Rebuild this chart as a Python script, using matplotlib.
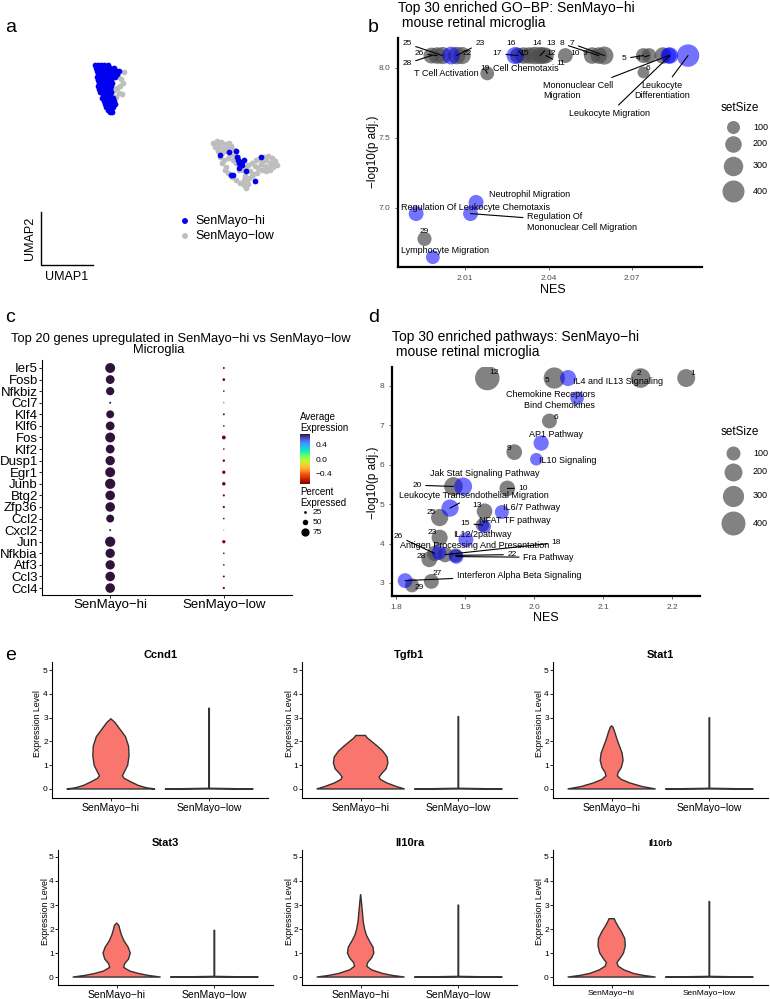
import numpy as np
import matplotlib
matplotlib.use('Agg')
import matplotlib.pyplot as plt
from matplotlib.colors import Normalize
from matplotlib.cm import ScalarMappable

plt.rcParams['font.family'] = ['Liberation Sans', 'DejaVu Sans']
M = '\u2212'

# ---------------- panel a : UMAP ----------------
hi_umap1 = [9.5, 9.8, 10.1, 10.4, 10.8,
            9.6, 9.9, 10.3, 10.7, 11.0, 11.4,
            9.7, 10.0, 10.4, 10.8, 11.2, 11.6, 11.9,
            9.8, 10.2, 10.5, 10.9, 11.3, 11.7,
            9.7, 10.1, 10.5, 10.8, 11.2, 11.5,
            9.8, 10.1, 10.4, 10.8, 11.1,
            9.9, 10.2, 10.6, 10.9, 11.2,
            9.8, 10.1, 10.4, 10.7, 11.1,
            9.9, 10.3, 10.6, 11.0,
            10.0, 10.4, 10.8, 11.1,
            10.3, 10.7, 11.0,
            10.2, 10.6, 10.9, 11.3,
            10.4, 10.7, 11.0, 11.4,
            10.5, 10.8, 11.2, 11.5,
            10.6, 10.9, 11.3,
            10.8, 11.1,
            11.0, 11.2,
            22.0, 22.9, 23.6, 23.7, 23.8, 23.9, 24.2, 24.2, 23.9, 23.1, 23.3, 25.5, 26.1, 24.6, 24.4]
hi_umap2 = [23.5, 23.5, 23.5, 23.5, 23.5,
            23.2, 23.2, 23.2, 23.2, 23.2, 23.2,
            22.9, 22.9, 22.9, 22.9, 22.9, 22.9, 22.9,
            22.6, 22.6, 22.6, 22.6, 22.6, 22.6,
            22.3, 22.3, 22.3, 22.3, 22.3, 22.3,
            22.0, 22.0, 22.0, 22.0, 22.0,
            21.7, 21.7, 21.7, 21.7, 21.7,
            21.4, 21.4, 21.4, 21.4, 21.4,
            21.1, 21.1, 21.1, 21.1,
            20.8, 20.8, 20.8, 20.8,
            20.5, 20.5, 20.5,
            20.2, 20.2, 20.2, 20.2,
            19.9, 19.9, 19.9, 19.9,
            19.6, 19.6, 19.6, 19.6,
            19.3, 19.3, 19.3,
            19.0, 19.0,
            18.8, 18.8,
            14.5, 14.8, 14.9, 14.3, 14.0, 13.7, 13.8, 13.5, 13.2, 12.5, 12.5, 11.9, 14.3, 12.9, 14.0]
low_umap1 = [11.8, 12.1, 12.3, 11.7, 11.9, 11.4, 11.6, 12.2, 11.2, 12.0, 12.4, 11.5,
             21.3, 21.7, 22.1, 22.5, 22.9, 21.5, 21.9, 22.3, 22.7, 23.1, 21.8, 22.2, 22.6, 23.0, 23.4,
             22.0, 22.4, 23.0, 23.5, 23.8, 22.2, 22.6, 23.3, 23.6, 24.1, 22.5, 22.8, 23.2, 23.6, 24.0,
             24.4, 24.6, 24.7, 24.5, 24.9, 25.2, 25.0, 24.6, 24.8, 25.2, 25.6, 26.0, 26.4, 26.8, 27.2,
             27.5, 27.7, 27.3, 26.9, 26.5, 26.1, 25.8, 26.2, 26.6, 27.0, 25.5, 25.7, 25.3, 24.3, 23.9,
             27.0, 27.4, 26.6, 26.2, 21.8, 22.8, 24.8, 24.4]
low_umap2 = [22.4, 22.1, 21.7, 21.2, 20.7, 21.0, 20.3, 20.6, 20.5, 21.4, 22.8, 23.0,
             15.7, 15.9, 15.8, 15.6, 15.7, 15.3, 15.4, 15.2, 15.3, 15.4, 14.9, 14.7, 14.9, 15.0, 15.0,
             14.3, 14.0, 14.5, 14.5, 14.3, 13.7, 13.3, 14.0, 13.7, 13.8, 13.0, 12.7, 12.3, 12.0, 11.7,
             11.5, 11.2, 12.0, 12.4, 12.2, 12.4, 12.9, 13.2, 13.5, 13.7, 14.0, 14.2, 14.3, 14.4, 14.2,
             13.9, 13.5, 13.3, 13.2, 13.4, 13.6, 13.2, 13.0, 12.9, 13.0, 13.4, 12.7, 12.6, 13.0, 13.0,
             13.7, 13.6, 14.0, 13.9, 15.6, 14.2, 11.6, 12.0]

# ---------------- panel b : GO-BP ----------------
b_term = ['28', '26', '25', 'T Cell Activation', '23', '22', '19',
          'Cell Chemotaxis', '17', '16', '15', '14', '13', '12', '11', '10', '9', '8', '7',
          '5', '4', '6', '3', 'Mononuclear Cell\nMigration', 'Leukocyte Migration',
          'Leukocyte\nDifferentiation', 'Neutrophil Migration',
          'Regulation Of Leukocyte Chemotaxis', 'Regulation Of\nMononuclear Cell Migration',
          '29', 'Lymphocyte Migration']
b_nes = [1.998, 2.000, 2.002, 2.005, 2.007, 2.009, 2.018,
         2.028, 2.029, 2.031, 2.033, 2.035, 2.037, 2.038, 2.039, 2.046, 2.0556, 2.058, 2.060,
         2.074, 2.076, 2.074, 2.081, 2.083, 2.0835,
         2.090, 2.014, 1.9925, 2.012, 1.9955, 1.9985]
b_logp = [8.085, 8.085, 8.085, 8.085, 8.085, 8.085, 7.958,
          8.085, 8.085, 8.085, 8.085, 8.085, 8.085, 8.085, 8.085, 8.085, 8.085, 8.085, 8.085,
          8.085, 8.085, 7.965, 8.085, 8.085, 8.085,
          8.085, 7.04, 6.96, 6.96, 6.78, 6.65]
b_setsize = [180, 200, 220, 240, 230, 220, 120,
             220, 180, 200, 200, 230, 220, 200, 180, 150, 200, 200, 250,
             150, 150, 70, 200, 180, 200,
             420, 150, 150, 150, 130, 120]
b_selected = [0, 0, 0, 1, 0, 0, 0,
              1, 0, 0, 0, 0, 0, 0, 0, 0, 0, 0, 0,
              0, 0, 0, 0, 1, 1,
              1, 1, 1, 1, 0, 1]

# ---------------- panel c : dot plot ----------------
genes = ['Ier5', 'Fosb', 'Nfkbiz', 'Ccl7', 'Klf4', 'Klf6', 'Fos', 'Klf2', 'Dusp1', 'Egr1',
         'Junb', 'Btg2', 'Zfp36', 'Ccl2', 'Cxcl2', 'Jun', 'Nfkbia', 'Atf3', 'Ccl3', 'Ccl4']
groups = ['SenMayo' + M + 'hi', 'SenMayo' + M + 'low']
pct_hi = [90, 80, 75, 18, 72, 80, 90, 80, 85, 90, 93, 87, 87, 72, 18, 93, 85, 85, 87, 87]
pct_low = [18, 25, 15, 10, 18, 15, 35, 15, 22, 30, 32, 20, 20, 15, 8, 30, 15, 15, 18, 20]
avg_hi = [0.707] * 20
avg_low = [-0.707] * 20

# ---------------- panel d : pathways ----------------
d_term = ['12', '5', 'IL4 and IL13 Signaling', '2', '1', 'Chemokine Receptors\nBind Chemokines',
          '6', 'AP1 Pathway', '9', 'IL10 Signaling', '20', 'Jak Stat Signaling Pathway', '10',
          'Leukocyte Transendothelial Migration', '13', 'IL6/7 Pathway', '25', '15',
          'NFAT TF pathway', '23', 'IL12/2pathway', '26', 'Antigen Processing And Presentation',
          '18', '28', '22', 'Fra Pathway', 'Interferon Alpha Beta Signaling', '27', '29']
d_nes = [1.932, 2.029, 2.049, 2.154, 2.220, 2.062,
         2.022, 2.010, 1.971, 2.003, 1.883, 1.897, 1.961,
         1.878, 1.928, 1.953, 1.863, 1.925,
         1.928, 1.863, 1.901, 1.856, 1.862,
         1.871, 1.848, 1.886, 1.887, 1.813, 1.851, 1.823]
d_logp = [8.2, 8.2, 8.2, 8.2, 8.2, 7.69,
          7.11, 6.55, 6.32, 6.14, 5.45, 5.45, 5.40,
          4.90, 4.82, 4.80, 4.66, 4.47,
          4.43, 4.15, 4.10, 3.75, 3.77,
          3.72, 3.60, 3.70, 3.67, 3.06, 3.04, 2.94]
d_setsize = [420, 300, 150, 250, 200, 90,
             120, 130, 140, 70, 220, 200, 140,
             180, 140, 100, 180, 90,
             80, 150, 120, 130, 110,
             130, 140, 100, 110, 120, 120, 100]
d_selected = [0, 0, 1, 0, 0, 1,
              0, 1, 0, 1, 0, 1, 0,
              1, 0, 1, 0, 0,
              1, 0, 1, 0, 1,
              0, 0, 0, 1, 1, 0, 0]

# ---------------- panel e : violins (level, relative half width) ----------------
vln_genes = ['Ccnd1', 'Tgfb1', 'Stat1', 'Stat3', 'Il10ra', 'Il10rb']
vln_levels = {
    'Ccnd1': [0, 0.05, 0.15, 0.3, 0.45, 0.55, 0.7, 1.0, 1.4, 1.8, 2.2, 2.6, 2.8, 2.95],
    'Tgfb1': [0, 0.1, 0.25, 0.4, 0.5, 0.65, 0.85, 1.1, 1.35, 1.6, 1.8, 2.0, 2.15, 2.25],
    'Stat1': [0, 0.1, 0.25, 0.4, 0.55, 0.7, 0.9, 1.2, 1.5, 1.8, 2.1, 2.4, 2.6, 2.65],
    'Stat3': [0, 0.07, 0.15, 0.25, 0.4, 0.55, 0.75, 1.0, 1.25, 1.5, 1.75, 2.0, 2.15, 2.25],
    'Il10ra': [0, 0.07, 0.15, 0.3, 0.45, 0.6, 0.8, 1.0, 1.25, 1.5, 1.75, 2.0, 2.3, 2.7, 3.1, 3.45],
    'Il10rb': [0, 0.07, 0.15, 0.3, 0.45, 0.6, 0.8, 1.0, 1.3, 1.6, 1.9, 2.1, 2.3, 2.43],
}
vln_widths = {
    'Ccnd1': [1.0, 0.8, 0.62, 0.45, 0.3, 0.26, 0.3, 0.38, 0.41, 0.4, 0.33, 0.17, 0.09, 0.0],
    'Tgfb1': [1.0, 0.82, 0.6, 0.45, 0.42, 0.48, 0.58, 0.62, 0.6, 0.5, 0.38, 0.25, 0.15, 0.11],
    'Stat1': [1.0, 0.7, 0.42, 0.22, 0.13, 0.15, 0.22, 0.26, 0.24, 0.18, 0.12, 0.07, 0.03, 0.0],
    'Stat3': [1.0, 0.72, 0.5, 0.3, 0.16, 0.18, 0.27, 0.31, 0.26, 0.17, 0.11, 0.07, 0.05, 0.0],
    'Il10ra': [1.0, 0.72, 0.5, 0.25, 0.14, 0.16, 0.25, 0.3, 0.28, 0.2, 0.13, 0.09, 0.06, 0.04, 0.02, 0.0],
    'Il10rb': [1.0, 0.72, 0.5, 0.28, 0.15, 0.12, 0.2, 0.27, 0.31, 0.3, 0.22, 0.15, 0.09, 0.06],
}
vln_low_max = [3.4, 3.05, 3.0, 1.95, 3.0, 3.15]

W, H = 770, 999
fig = plt.figure(figsize=(W / 100, H / 100), dpi=100)


def box(l, t, r, b):
    return [l / W, 1 - b / H, (r - l) / W, (b - t) / H]


GREY = '#4d4d4d'
BLUE = '#0000ff'

# overlay in pixel coords for loose text/lines
ov = fig.add_axes([0, 0, 1, 1], zorder=5)
ov.set_xlim(0, W)
ov.set_ylim(H, 0)
ov.axis('off')

for lab, x, y in [('a', 5, 28), ('b', 368, 28), ('c', 5, 318), ('d', 368, 318), ('e', 5, 655)]:
    ov.text(x, y, lab, fontsize=14, va='center', ha='left')

# ---- a
ax_a = fig.add_axes(box(0, 40, 300, 200))
ax_a.set_xlim(0, 30)
ax_a.set_ylim(10, 26)
ax_a.axis('off')
ax_a.scatter(low_umap1, low_umap2, s=17, color='#bebebe', lw=0)
ax_a.scatter(hi_umap1, hi_umap2, s=17, color='#0000ee', lw=0)
ov.plot([41, 41, 93], [212, 265, 265], color='black', lw=1.0)
ov.text(30, 238, 'UMAP2', rotation=90, ha='center', va='center', fontsize=9)
ov.text(67, 277, 'UMAP1', ha='center', va='center', fontsize=9)
ov.scatter([185, 185], [221, 236], s=18, color=['#0000ee', '#bebebe'], lw=0)
ov.text(195, 221, groups[0], va='center', fontsize=9)
ov.text(195, 236, groups[1], va='center', fontsize=9)


def style_gsea(ax):
    for s in ['top', 'right']:
        ax.spines[s].set_visible(False)
    for s in ['left', 'bottom']:
        ax.spines[s].set_linewidth(1.6)
    ax.tick_params(length=2, width=0.6, colors='#4d4d4d', labelsize=6)


def b_marker(s):
    return (np.sqrt(64 + 1.05 * np.asarray(s)) * 0.72) ** 2


def d_marker(s):
    return (np.sqrt(69 + 1.267 * np.asarray(s)) * 0.72) ** 2


def draw_gsea(ax, nes, logp, size, sel, marker):
    nes = np.array(nes); logp = np.array(logp); size = np.array(size); sel = np.array(sel, bool)
    ax.scatter(nes[~sel], logp[~sel], s=marker(size[~sel]), color=GREY, alpha=0.7, lw=0)
    ax.scatter(nes[sel], logp[sel], s=marker(size[sel]), color=BLUE, alpha=0.55, lw=0)


def label_points(ax, terms, nes, logp, layout, fs_num=6, fs_txt=6.5):
    for t, x, y in zip(terms, nes, logp):
        if t not in layout:
            continue
        lx, ly, ha, line = layout[t]
        fs = fs_num if t.isdigit() else fs_txt
        if line:
            ax.annotate(t, xy=(x, y), xytext=(lx, ly), ha=ha, va='center', fontsize=fs,
                        arrowprops=dict(arrowstyle='-', color='black', lw=0.8,
                                        shrinkA=1, shrinkB=0))
        else:
            ax.text(lx, ly, t, ha=ha, va='center', fontsize=fs)


def size_legend(y_title, ys, marker):
    ov.text(721, y_title, 'setSize', fontsize=8.5, va='center')
    for v, y in zip([100, 200, 300, 400], ys):
        ov.scatter([733], [y], s=marker(v), color=GREY, alpha=0.7, lw=0)
        ov.text(753, y, str(v), fontsize=6.5, va='center')


# ---- b
ax_b = fig.add_axes(box(398, 38, 702, 267))
draw_gsea(ax_b, b_nes, b_logp, b_setsize, b_selected, b_marker)
ax_b.set_xlim(1.986, 2.095)
ax_b.set_ylim(6.58, 8.21)
ax_b.set_xticks([2.01, 2.04, 2.07])
ax_b.set_yticks([7.0, 7.5, 8.0])
style_gsea(ax_b)
b_layout = {
    '28': (1.9892, 8.028, 'center', True), '26': (1.9935, 8.099, 'center', True),
    '25': (1.9892, 8.170, 'center', True), '23': (2.0154, 8.170, 'center', True),
    '22': (2.0107, 8.099, 'center', False),
    'T Cell Activation': (2.0035, 7.957, 'center', False),
    '19': (2.0172, 7.990, 'center', True),
    'Cell Chemotaxis': (2.0318, 7.993, 'center', False),
    '17': (2.0215, 8.099, 'center', True), '16': (2.0265, 8.170, 'center', True),
    '15': (2.0312, 8.099, 'center', False), '14': (2.0359, 8.170, 'center', False),
    '13': (2.0409, 8.170, 'center', True), '12': (2.0409, 8.099, 'center', False),
    '11': (2.0445, 8.028, 'center', True), '10': (2.0495, 8.099, 'center', False),
    '9': (2.0531, 8.099, 'center', False), '8': (2.0448, 8.170, 'center', True),
    '7': (2.0484, 8.170, 'center', True), '5': (2.0671, 8.064, 'center', True),
    '4': (2.0721, 8.064, 'center', True), '6': (2.0757, 7.993, 'center', False),
    'Mononuclear Cell\nMigration': (2.038, 7.837, 'left', True),
    'Leukocyte Migration': (2.062, 7.674, 'center', True),
    'Leukocyte\nDifferentiation': (2.0807, 7.837, 'center', True),
    'Neutrophil Migration': (2.033, 7.099, 'center', False),
    'Regulation Of Leukocyte Chemotaxis': (1.987, 7.007, 'left', False),
    'Regulation Of\nMononuclear Cell Migration': (2.0323, 6.90, 'left', True),
    '29': (1.9953, 6.83, 'center', False),
    'Lymphocyte Migration': (2.0028, 6.70, 'center', False),
}
label_points(ax_b, b_term, b_nes, b_logp, b_layout)
ov.text(398, 8, 'Top 30 enriched GO' + M + 'BP: SenMayo' + M + 'hi', fontsize=10, va='center')
ov.text(398, 23, ' mouse retinal microglia', fontsize=10, va='center')
ov.text(553, 290, 'NES', fontsize=9, ha='center', va='center')
ov.text(373, 152, M + 'log10(p adj.)', fontsize=8.5, rotation=90, ha='center', va='center')
size_legend(108, [127, 144, 166, 191], b_marker)

# ---- c
ax_c = fig.add_axes(box(42, 360, 292, 595))
norm = Normalize(-0.707, 0.707)
cmap = plt.get_cmap('turbo_r')
ypos = np.arange(len(genes))


def pct_marker(p):
    return (np.asarray(p) * 0.11 * 0.72) ** 2


ax_c.scatter(np.zeros(len(genes)), ypos, s=pct_marker(pct_hi), c=avg_hi, cmap=cmap, norm=norm, lw=0)
ax_c.scatter(np.ones(len(genes)), ypos, s=pct_marker(pct_low), c=avg_low, cmap=cmap, norm=norm, lw=0)
ax_c.set_xlim(-0.6, 1.6)
ax_c.set_ylim(19.6, -0.69)
ax_c.set_yticks(ypos)
ax_c.set_yticklabels(genes, fontsize=9.5)
ax_c.set_xticks([0, 1])
ax_c.set_xticklabels(groups, fontsize=9.5)
for s in ['top', 'right']:
    ax_c.spines[s].set_visible(False)
ax_c.tick_params(length=2, width=0.6, pad=1)
ov.text(181, 339, 'Top 20 genes upregulated in SenMayo' + M + 'hi vs SenMayo' + M + 'low',
        fontsize=9.3, ha='center', va='center')
ov.text(159, 350, 'Microglia', fontsize=9.3, ha='center', va='center')

ax_cb = fig.add_axes(box(300, 434, 310, 484))
cb = fig.colorbar(ScalarMappable(norm=norm, cmap=cmap), cax=ax_cb)
cb.set_ticks([-0.4, 0.0, 0.4])
cb.set_ticklabels([M + '0.4', '0.0', '0.4'])
cb.outline.set_visible(False)
ax_cb.tick_params(labelsize=6, length=2, color='white', pad=2)
ov.text(300, 417, 'Average', fontsize=7, va='center')
ov.text(300, 428, 'Expression', fontsize=7, va='center')
ov.text(300, 492, 'Percent', fontsize=7, va='center')
ov.text(300, 503, 'Expressed', fontsize=7, va='center')
for v, y in zip([25, 50, 75], [512, 522, 532]):
    ov.scatter([305], [y], s=pct_marker(v), color='black', lw=0)
    ov.text(313, y, str(v), fontsize=6, va='center')

# ---- d
ax_d = fig.add_axes(box(392, 367, 700, 596))
draw_gsea(ax_d, d_nes, d_logp, d_setsize, d_selected, d_marker)
ax_d.set_xlim(1.794, 2.24)
ax_d.set_ylim(2.67, 8.48)
ax_d.set_xticks([1.8, 1.9, 2.0, 2.1, 2.2])
ax_d.set_yticks([3, 4, 5, 6, 7, 8])
style_gsea(ax_d)
d_layout = {
    '12': (1.942, 8.33, 'center', False), '5': (2.019, 8.13, 'center', False),
    'IL4 and IL13 Signaling': (2.122, 8.10, 'center', False),
    '2': (2.152, 8.31, 'center', False), '1': (2.229, 8.31, 'center', False),
    'Chemokine Receptors\nBind Chemokines': (2.088, 7.64, 'right', False),
    '6': (2.032, 7.19, 'center', False), 'AP1 Pathway': (2.032, 6.78, 'center', False),
    '9': (1.964, 6.42, 'center', False), 'IL10 Signaling': (2.007, 6.12, 'left', False),
    'Jak Stat Signaling Pathway': (1.929, 5.79, 'center', False),
    '20': (1.830, 5.48, 'center', True), '10': (1.984, 5.40, 'center', True),
    'Leukocyte Transendothelial Migration': (1.913, 5.23, 'center', True),
    '13': (1.917, 4.97, 'center', False), 'IL6/7 Pathway': (1.955, 4.92, 'left', False),
    '25': (1.851, 4.79, 'center', False), '15': (1.900, 4.51, 'center', True),
    'NFAT TF pathway': (1.920, 4.59, 'left', False), '23': (1.852, 4.28, 'center', False),
    'IL12/2pathway': (1.925, 4.23, 'center', False), '26': (1.803, 4.18, 'center', True),
    'Antigen Processing And Presentation': (1.913, 3.95, 'center', False),
    '18': (2.032, 4.02, 'center', True), '28': (1.836, 3.67, 'center', False),
    '22': (1.968, 3.72, 'center', True), 'Fra Pathway': (1.984, 3.65, 'left', True),
    '27': (1.859, 3.24, 'center', False),
    'Interferon Alpha Beta Signaling': (1.888, 3.19, 'left', True),
    '29': (1.833, 2.89, 'center', False),
}
label_points(ax_d, d_term, d_nes, d_logp, d_layout)
ov.text(392, 337, 'Top 30 enriched pathways: SenMayo' + M + 'hi', fontsize=10, va='center')
ov.text(392, 352, ' mouse retinal microglia', fontsize=10, va='center')
ov.text(546, 618, 'NES', fontsize=9, ha='center', va='center')
ov.text(373, 483, M + 'log10(p adj.)', fontsize=8.5, rotation=90, ha='center', va='center')
size_legend(432, [453, 472, 496, 523], d_marker)

# ---- e
e_boxes = [(52, 662, 268, 798), (302, 662, 517, 798), (553, 662, 768, 798),
           (58, 850, 273, 985), (302, 850, 517, 985), (553, 850, 768, 985)]
e_ylab = [(38, 724), (290, 724), (540, 724), (45, 912), (290, 912), (540, 912)]
for i, g in enumerate(vln_genes):
    l, t, r, b = e_boxes[i]
    ax = fig.add_axes(box(l, t, r, b))
    small = g == 'Il10rb'
    lv = np.array(vln_levels[g])
    w = np.array(vln_widths[g]) * 0.45
    ax.fill(np.concatenate([0 - w, (0 + w)[::-1]]), np.concatenate([lv, lv[::-1]]),
            facecolor='#F8766D', edgecolor='#333333', lw=1.0)
    lv2 = np.array([0, 0.03, vln_low_max[i]])
    w2 = np.array([1.0, 0.006, 0.006]) * 0.45
    ax.fill(np.concatenate([1 - w2, (1 + w2)[::-1]]), np.concatenate([lv2, lv2[::-1]]),
            facecolor='#F8766D', edgecolor='#333333', lw=1.0)
    ax.set_xlim(-0.6, 1.6)
    if t < 800:
        ax.set_ylim(-0.38, 5.34)
    else:
        ax.set_ylim(-0.33, 5.29)
    ax.set_yticks([0, 1, 2, 3, 4, 5])
    ax.set_xticks([0, 1])
    ax.set_xticklabels(groups, fontsize=6 if small else 7.5)
    for s in ['top', 'right']:
        ax.spines[s].set_visible(False)
    ax.tick_params(axis='y', labelsize=6, length=2, width=0.6, pad=1)
    ax.tick_params(axis='x', length=2, width=0.6, pad=1.5)
    ax.set_title(g, fontsize=6.5 if small else 8, fontweight='bold', pad=3)
    ov.text(e_ylab[i][0], e_ylab[i][1], 'Expression Level', rotation=90, fontsize=6.3,
            ha='center', va='center')

fig.savefig('out.png', dpi=100)
